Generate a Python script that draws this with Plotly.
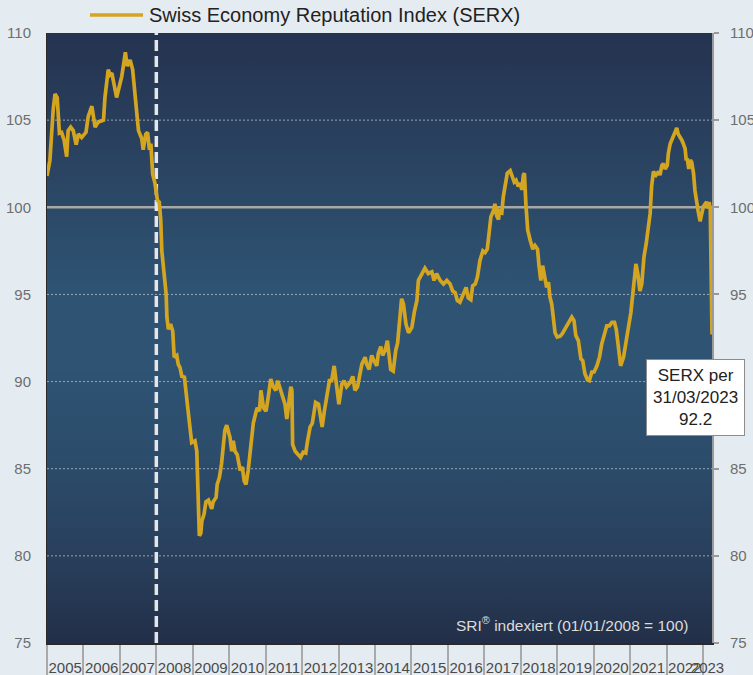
import plotly.graph_objects as go

# ---------------- data ----------------
serx_year = [
    2005.00, 2005.08, 2005.17, 2005.22, 2005.28, 2005.34, 2005.40, 2005.47, 2005.54, 2005.58, 2005.65, 2005.72, 2005.80, 2005.86, 2005.95,
    2006.07, 2006.13, 2006.23, 2006.32, 2006.41, 2006.55, 2006.59, 2006.68, 2006.73, 2006.78, 2006.84, 2006.91, 2006.98,
    2007.05, 2007.11, 2007.15, 2007.20, 2007.28, 2007.35, 2007.41, 2007.51, 2007.60, 2007.64, 2007.71, 2007.76, 2007.81, 2007.85, 2007.90, 2007.96,
    2008.03, 2008.08, 2008.12, 2008.15, 2008.27, 2008.29, 2008.33, 2008.39, 2008.45, 2008.49, 2008.56, 2008.60, 2008.65, 2008.70, 2008.77, 2008.83, 2008.91, 2008.97,
    2009.06, 2009.11, 2009.15, 2009.18, 2009.22, 2009.25, 2009.31, 2009.36, 2009.43, 2009.47, 2009.52, 2009.56, 2009.64, 2009.67, 2009.73, 2009.79, 2009.84, 2009.88, 2009.93, 2009.98,
    2010.02, 2010.07, 2010.11, 2010.16, 2010.22, 2010.30, 2010.36, 2010.41, 2010.46, 2010.52, 2010.59, 2010.66, 2010.74, 2010.77, 2010.83, 2010.87, 2010.94,
    2011.01, 2011.07, 2011.14, 2011.21, 2011.28, 2011.33, 2011.41, 2011.48, 2011.53, 2011.58, 2011.63, 2011.69, 2011.72, 2011.74, 2011.81, 2011.90, 2011.96,
    2012.03, 2012.10, 2012.15, 2012.22, 2012.28, 2012.33, 2012.37, 2012.45, 2012.51, 2012.55, 2012.61, 2012.68, 2012.75, 2012.81, 2012.88, 2012.95,
    2013.01, 2013.09, 2013.15, 2013.22, 2013.32, 2013.39, 2013.45, 2013.52, 2013.59, 2013.64, 2013.73, 2013.77, 2013.84, 2013.91, 2013.97,
    2014.05, 2014.09, 2014.16, 2014.21, 2014.28, 2014.34, 2014.39, 2014.43, 2014.50, 2014.57, 2014.62, 2014.67, 2014.73, 2014.78, 2014.85, 2014.92,
    2015.01, 2015.08, 2015.15, 2015.19, 2015.28, 2015.37, 2015.46, 2015.56, 2015.62, 2015.69, 2015.79, 2015.88, 2015.97,
    2016.06, 2016.13, 2016.20, 2016.26, 2016.33, 2016.42, 2016.50, 2016.56, 2016.63, 2016.68, 2016.75, 2016.81, 2016.88, 2016.96,
    2017.02, 2017.08, 2017.14, 2017.18, 2017.25, 2017.29, 2017.34, 2017.39, 2017.41, 2017.48, 2017.52, 2017.57, 2017.63, 2017.71, 2017.78, 2017.82, 2017.87, 2017.93, 2017.98,
    2018.03, 2018.07, 2018.10, 2018.14, 2018.19, 2018.26, 2018.33, 2018.39, 2018.46, 2018.50, 2018.55, 2018.60, 2018.67, 2018.71, 2018.76, 2018.80, 2018.85, 2018.89, 2018.94,
    2019.00, 2019.08, 2019.14, 2019.20, 2019.26, 2019.33, 2019.40, 2019.46, 2019.51, 2019.58, 2019.65, 2019.70, 2019.76, 2019.83, 2019.88, 2019.95,
    2020.01, 2020.09, 2020.16, 2020.22, 2020.29, 2020.36, 2020.43, 2020.50, 2020.57, 2020.62, 2020.68, 2020.74, 2020.82, 2020.88, 2020.95,
    2021.02, 2021.07, 2021.11, 2021.16, 2021.21, 2021.27, 2021.32, 2021.38, 2021.44, 2021.50, 2021.55, 2021.59, 2021.64, 2021.71, 2021.78, 2021.82, 2021.87, 2021.91, 2021.96,
    2022.02, 2022.05, 2022.10, 2022.14, 2022.19, 2022.23, 2022.28, 2022.32, 2022.37, 2022.42, 2022.46, 2022.51, 2022.54, 2022.57, 2022.61, 2022.65, 2022.69, 2022.74, 2022.78, 2022.83, 2022.87, 2022.92, 2022.97,
    2023.01, 2023.06, 2023.10, 2023.15, 2023.17, 2023.20, 2023.22, 2023.247,
]
serx_value = [
    101.8, 102.7, 105.6, 106.5, 106.3, 104.25, 104.3, 103.85, 102.9, 104.4, 104.6, 104.4, 103.6, 104.2, 104.0,
    104.3, 105.2, 105.8, 104.6, 104.9, 105.0, 106.3, 107.9, 107.6, 107.7, 107.1, 106.3, 106.9,
    107.5, 108.3, 108.9, 108.1, 108.45, 107.9, 106.7, 104.4, 103.95, 103.3, 104.2, 104.3, 103.3, 103.65, 101.9, 101.4,
    100.4, 100.3, 99.3, 97.5, 95.0, 93.7, 93.0, 93.3, 92.9, 91.4, 91.5, 91.0, 90.8, 90.3, 90.25, 88.9, 87.6, 86.5,
    86.6, 86.0, 83.2, 81.15, 81.3, 82.0, 82.4, 83.1, 83.2, 82.9, 82.7, 83.1, 83.35, 84.1, 84.5, 85.3, 86.2, 87.2, 87.5, 87.1,
    86.8, 86.0, 86.6, 86.0, 85.8, 84.9, 85.1, 84.3, 84.1, 84.9, 86.2, 87.6, 88.3, 88.5, 88.3, 89.5, 88.5,
    88.3, 89.1, 90.15, 89.7, 89.5, 90.05, 89.5, 89.1, 88.7, 87.85, 88.7, 89.7, 89.5, 86.4, 86.0, 85.75, 85.65,
    85.95, 85.9, 86.6, 87.4, 87.6, 88.5, 88.8, 88.7, 88.05, 87.4, 88.3, 89.1, 90.05, 90.05, 90.9, 89.7,
    88.7, 89.85, 90.05, 89.7, 89.95, 90.3, 89.5, 89.7, 90.45, 91.0, 91.4, 91.0, 90.7, 91.5, 91.2,
    90.9, 91.6, 92.0, 91.5, 91.8, 92.35, 91.6, 90.7, 90.6, 91.8, 92.2, 93.3, 94.75, 94.45, 93.3, 92.8,
    93.1, 94.0, 94.65, 95.8, 96.2, 96.5, 96.2, 96.3, 95.8, 96.2, 95.8, 95.6, 95.8,
    95.6, 95.2, 95.1, 94.65, 94.55, 95.0, 95.4, 94.8, 94.7, 95.5, 95.6, 96.0, 96.95, 97.5,
    97.4, 97.6, 98.5, 99.45, 99.8, 100.2, 99.5, 99.3, 99.8, 99.7, 100.6, 101.4, 101.95, 102.1, 101.75, 101.45, 101.55, 101.2, 101.4,
    101.0, 101.85, 101.95, 100.2, 98.7, 98.1, 97.6, 97.8, 97.6, 96.65, 95.8, 96.65, 95.9, 95.4, 95.7, 94.85, 94.45, 93.5, 92.8,
    92.55, 92.6, 92.75, 92.95, 93.2, 93.4, 93.7, 93.5, 92.65, 92.35, 91.3, 91.2, 90.45, 90.1, 90.05, 90.55,
    90.55, 90.9, 91.4, 92.15, 92.65, 93.2, 93.2, 93.4, 93.4, 93.0, 91.95, 90.9, 91.4, 92.15, 92.8,
    93.95, 94.95, 95.8, 96.75, 96.2, 95.2, 95.6, 97.15, 97.9, 98.7, 99.65, 101.2, 102.05, 101.85, 102.05, 101.85, 102.4, 102.5, 102.2,
    102.4, 103.1, 103.65, 103.85, 104.05, 104.3, 104.55, 104.2, 104.05, 103.85, 103.65, 103.35, 102.7, 102.8, 102.2, 102.7, 102.6, 101.95, 100.95, 100.1, 99.75, 99.2, 99.85,
    100.05, 100.2, 100.3, 99.95, 100.3, 99.85, 96.6, 92.7,
]

year_labels = ["2005", "2006", "2007", "2008", "2009", "2010", "2011", "2012", "2013",
               "2014", "2015", "2016", "2017", "2018", "2019", "2020", "2021", "2022", "2023"]
y_ticks = [75, 80, 85, 90, 95, 100, 105, 110]
y_ticks_right = [75, 80, 85, 95, 100, 105, 110]   # 90 is hidden behind the value box
grid_levels = [80, 85, 90, 95, 105]
base_level = 100
base_year = 2008.0
x_start, x_end = 2005.0, 2023.247
y_min, y_max = 75, 110

series_name = "Swiss Economy Reputation Index (SERX)"
last_date_text = "31/03/2023"
last_value_text = "92.2"
note_text = "SRI<sup>®</sup> indexiert (01/01/2008 = 100)"

# ---------------- styling ----------------
FONT = "Liberation Sans, Arial, Helvetica, sans-serif"
GOLD = "#d4a521"
W, H = 753, 675
ML, MR, MT, MB = 47, 41, 33, 32

year_starts = [float(y) for y in year_labels]
label_pos = [(s + min(s + 1, x_end)) / 2 for s in year_starts]

fig = go.Figure()

# gradient plot background
fig.add_trace(go.Scatter(
    x=[x_start, x_end, x_end, x_start, x_start],
    y=[y_min, y_min, y_max, y_max, y_min],
    mode="none", fill="toself",
    fillgradient=dict(type="vertical", colorscale=[
        [0.0, "#232f48"], [0.14, "#283f5b"], [0.30, "#2c4c6b"], [0.45, "#2e5373"],
        [0.58, "#2e5373"], [0.73, "#2b4866"], [0.87, "#283d5a"], [1.0, "#243350"]]),
    hoverinfo="skip", showlegend=False))

# dotted grid
for g in grid_levels:
    fig.add_trace(go.Scatter(x=[x_start, x_end], y=[g, g], mode="lines",
                             line=dict(color="rgba(190,198,210,0.75)", width=1, dash="2px,2px"),
                             hoverinfo="skip", showlegend=False))

# base 100 line
fig.add_trace(go.Scatter(x=[x_start, x_end], y=[base_level, base_level], mode="lines",
                         line=dict(color="#a8a8a8", width=2.5),
                         hoverinfo="skip", showlegend=False))

# vertical dashed line at base date
fig.add_trace(go.Scatter(x=[base_year, base_year], y=[y_min, y_max], mode="lines",
                         line=dict(color="#e4e6ea", width=3.5, dash="11px,5px"),
                         hoverinfo="skip", showlegend=False))

# SERX line
fig.add_trace(go.Scatter(x=serx_year, y=serx_value, mode="lines", name=series_name,
                         line=dict(color=GOLD, width=3.7), showlegend=False))

# invisible trace for right axis
fig.add_trace(go.Scatter(x=serx_year, y=serx_value, yaxis="y2", mode="lines",
                         line=dict(width=0), opacity=0, hoverinfo="skip", showlegend=False))

pw = W - ML - MR
ph = H - MT - MB

def px_x(p):
    return (p - ML) / pw

def px_y(p):
    return (H - MB - p) / ph

fig.update_layout(
    width=W, height=H,
    margin=dict(l=ML, r=MR, t=MT, b=MB, pad=0, autoexpand=False),
    paper_bgcolor="#e5ecf1",
    plot_bgcolor="rgba(0,0,0,0)",
    font=dict(family=FONT, color="#555"),
    showlegend=False,
    xaxis=dict(
        range=[x_start, x_end], showgrid=False, zeroline=False, automargin=False,
        tickmode="array", tickvals=label_pos, ticktext=year_labels, tickangle=0,
        ticks="", ticklabelstandoff=10,
        tickfont=dict(size=15, color="#4a4a4a"),
        showline=True, linecolor="#2a2a2a", linewidth=1.5,
        minor=dict(tickmode="array", tickvals=year_starts, ticks="outside",
                   ticklen=34, tickcolor="#a9a9a9", tickwidth=2, showgrid=False),
    ),
    yaxis=dict(
        range=[y_min, y_max], showgrid=False, zeroline=False, automargin=False,
        tickmode="array", tickvals=y_ticks, ticks="", ticklabelstandoff=12,
        tickfont=dict(size=15, color="#6e6e6e"),
        showline=True, linecolor="#2a2a2a", linewidth=1,
    ),
    yaxis2=dict(
        range=[y_min, y_max], overlaying="y", side="right", automargin=False,
        showgrid=False, zeroline=False,
        tickmode="array", tickvals=y_ticks_right, ticks="outside", ticklen=5,
        tickcolor="#9a9a9a", tickwidth=1.5, ticklabelstandoff=8,
        tickfont=dict(size=15, color="#6e6e6e"),
        showline=True, linecolor="#9a9a9a", linewidth=2,
    ),
    shapes=[dict(type="line", xref="paper", yref="paper",
                 x0=px_x(90), x1=px_x(143), y0=px_y(15), y1=px_y(15),
                 line=dict(color=GOLD, width=3.5))],
    annotations=[
        dict(xref="paper", yref="paper", x=px_x(147), y=px_y(15),
             xanchor="left", yanchor="middle", showarrow=False,
             text=series_name, font=dict(size=20, color="#222", family=FONT)),
        dict(xref="paper", yref="paper", x=px_x(690), y=px_y(624),
             xanchor="right", yanchor="middle", showarrow=False,
             text=note_text, font=dict(size=15.5, color="#dcdcdc", family=FONT)),
        dict(xref="paper", yref="paper", x=px_x(695.5), y=px_y(397.5),
             xanchor="center", yanchor="middle", showarrow=False,
             text=f"SERX per<br>{last_date_text}<br>{last_value_text}",
             font=dict(size=17, color="#222", family=FONT),
             bgcolor="white", bordercolor="#8c8c8c", borderwidth=1, borderpad=6),
    ],
)

fig.write_html("out.html", config={"displayModeBar": False},
               post_script="document.body.style.margin='0';document.body.style.padding='0';document.body.style.overflow='hidden';")
